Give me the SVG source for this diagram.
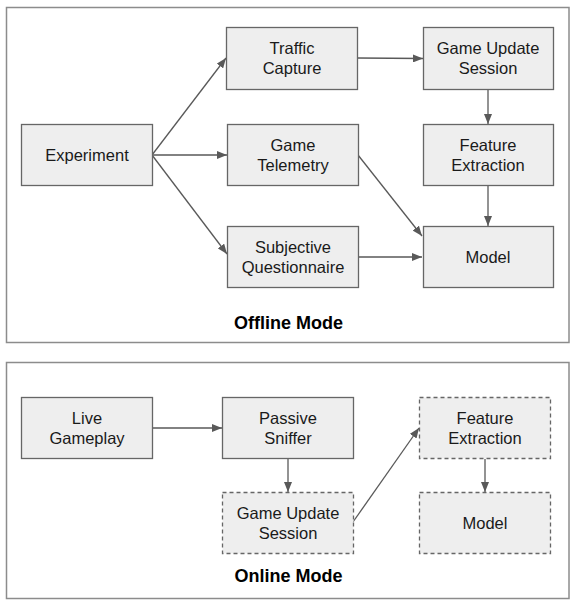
<svg xmlns="http://www.w3.org/2000/svg" width="574" height="605" viewBox="0 0 574 605">
<defs>
<style>
.frame{fill:#ffffff;stroke:#8c8c8c;stroke-width:1.5}
.box{fill:#eeeeee;stroke:#666666;stroke-width:1.3}
.dash{fill:#eeeeee;stroke:#666666;stroke-width:1.3;stroke-dasharray:4,3}
.t{font-family:"Liberation Sans",Arial,sans-serif;font-size:16.5px;fill:#1a1a1a;text-anchor:middle}
.title{font-family:"Liberation Sans",Arial,sans-serif;font-size:18px;font-weight:bold;fill:#000;text-anchor:middle}
.c{stroke:#595959;stroke-width:1.3;fill:none;marker-end:url(#ah)}
</style>
<marker id="ah" markerWidth="10" markerHeight="8" refX="10" refY="4" orient="auto" markerUnits="userSpaceOnUse">
<path d="M0,0 L10,4 L0,8 Z" fill="#595959"/>
</marker>
</defs>
<g id="offline-frame">
<rect class="frame" x="6.5" y="7.5" width="562.5" height="335"/>
<text class="title" x="288.5" y="329">Offline Mode</text>
</g>
<g id="online-frame">
<rect class="frame" x="6.5" y="362.5" width="562.5" height="236"/>
<text class="title" x="288.5" y="582">Online Mode</text>
</g>
<g id="connectors">
<line class="c" x1="152" y1="155" x2="226" y2="58"/>
<line class="c" x1="152" y1="155" x2="227" y2="155"/>
<line class="c" x1="152" y1="155" x2="227" y2="254"/>
<line class="c" x1="357" y1="58" x2="423" y2="58.5"/>
<line class="c" x1="488" y1="89" x2="488" y2="124"/>
<line class="c" x1="488" y1="185" x2="488" y2="226"/>
<line class="c" x1="358" y1="155" x2="422" y2="236"/>
<line class="c" x1="358" y1="257" x2="422" y2="257"/>
<line class="c" x1="152" y1="428" x2="222" y2="428"/>
<line class="c" x1="288" y1="459" x2="288" y2="492"/>
<line class="c" x1="353" y1="522" x2="419" y2="428"/>
<line class="c" x1="485" y1="459" x2="485" y2="492"/>
</g>
<g id="experiment"><rect class="box" x="21.5" y="124.5" width="131" height="61"/><text class="t" x="87" y="161">Experiment</text></g>
<g id="traffic-capture"><rect class="box" x="226.5" y="27.5" width="131" height="62"/><text class="t" x="292" y="54">Traffic</text><text class="t" x="292" y="74">Capture</text></g>
<g id="game-telemetry"><rect class="box" x="227.5" y="124.5" width="131" height="61"/><text class="t" x="293" y="151">Game</text><text class="t" x="293" y="171">Telemetry</text></g>
<g id="subjective-questionnaire"><rect class="box" x="227.5" y="226.5" width="131" height="61"/><text class="t" x="293" y="253">Subjective</text><text class="t" x="293" y="273">Questionnaire</text></g>
<g id="game-update-session"><rect class="box" x="423.5" y="27.5" width="130" height="62"/><text class="t" x="488" y="54">Game Update</text><text class="t" x="488" y="74">Session</text></g>
<g id="feature-extraction"><rect class="box" x="423.5" y="124.5" width="130" height="61"/><text class="t" x="488" y="151">Feature</text><text class="t" x="488" y="171">Extraction</text></g>
<g id="model"><rect class="box" x="423.5" y="226.5" width="130" height="61"/><text class="t" x="488" y="263">Model</text></g>
<g id="live-gameplay"><rect class="box" x="21.5" y="397.5" width="131" height="61"/><text class="t" x="87" y="424">Live</text><text class="t" x="87" y="444">Gameplay</text></g>
<g id="passive-sniffer"><rect class="box" x="222.5" y="397.5" width="131" height="61"/><text class="t" x="288" y="424">Passive</text><text class="t" x="288" y="444">Sniffer</text></g>
<g id="online-game-update-session"><rect class="dash" x="222.5" y="492.5" width="131" height="61"/><text class="t" x="288" y="519">Game Update</text><text class="t" x="288" y="539">Session</text></g>
<g id="online-feature-extraction"><rect class="dash" x="419.5" y="397.5" width="131" height="61"/><text class="t" x="485" y="424">Feature</text><text class="t" x="485" y="444">Extraction</text></g>
<g id="online-model"><rect class="dash" x="419.5" y="492.5" width="131" height="61"/><text class="t" x="485" y="529">Model</text></g>
</svg>
